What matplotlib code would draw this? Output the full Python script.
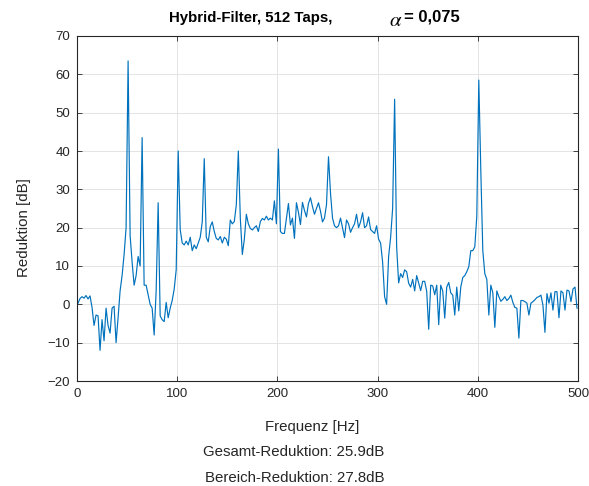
import numpy as np
import matplotlib
matplotlib.use("Agg")
import matplotlib.pyplot as plt

plt.rcParams['font.family'] = ['Liberation Sans', 'DejaVu Sans']

# Frequency grid (Hz) and reduction values (dB)
freq = np.arange(1, 500, 2)
reduction = [
    0.3, 1.5, 2.0, 1.6, 2.3, 1.4, 2.2, -0.8, -5.5, -2.8,
    -3.0, -12.0, -4.0, -9.5, -1.0, -5.5, -7.5, -1.0, -0.5, -10.0,
    -3.5, 3.5, 7.5, 13.0, 20.0, 63.5, 18.0, 11.0, 5.0, 7.5,
    12.5, 10.0, 43.5, 5.0, 5.0, 2.5, 0.0, -1.0, -8.0, 3.5,
    26.5, -3.0, -4.0, -4.5, 0.5, -3.5, -1.0, 1.0, 4.0, 9.0,
    40.0, 19.5, 16.0, 15.5, 16.5, 15.5, 17.5, 14.0, 15.5, 14.5,
    16.0, 17.5, 21.5, 38.0, 17.5, 16.3, 20.3, 21.5, 19.0, 17.2,
    16.8, 17.7, 16.0, 17.5, 17.0, 15.3, 22.0, 21.0, 21.6, 26.0,
    40.0, 22.4, 13.0, 17.0, 23.5, 21.0, 19.8, 19.4, 20.0, 20.5,
    19.0, 21.6, 22.4, 22.0, 23.0, 22.0, 22.5, 22.0, 27.0, 21.0,
    40.5, 19.0, 18.5, 18.5, 22.5, 26.3, 20.7, 22.5, 17.2, 26.5,
    24.0, 20.8, 26.6, 24.5, 22.8, 26.3, 27.8, 25.5, 23.5, 25.0,
    26.5, 24.3, 21.5, 22.5, 26.0, 38.5, 29.0, 22.5, 20.5, 20.0,
    20.5, 22.5, 20.0, 17.4, 22.0, 21.0, 18.8, 20.0, 21.0, 23.5,
    20.0, 21.5, 23.9, 20.0, 20.5, 22.8, 19.5, 19.0, 18.5, 20.5,
    17.0, 16.0, 11.0, 2.0, 0.0, 12.5, 17.5, 25.0, 53.5, 15.0,
    5.6, 8.0, 7.0, 9.0, 8.5, 5.5, 4.5, 6.5, 3.5, 7.5,
    5.5, 3.6, 6.0, 6.0, 3.4, -6.5, 5.0, 4.8, 2.5, 5.0,
    -5.3, 5.0, 3.5, -3.6, 4.5, 5.7, 3.0, 2.4, -2.8, 4.5,
    -1.7, 4.5, 7.0, 7.5, 8.5, 9.8, 14.0, 14.0, 15.0, 23.0,
    58.5, 35.0, 14.0, 8.0, 6.5, -2.8, 5.0, 3.0, -6.0, 3.5,
    2.0, 0.8, 1.3, 2.0, 1.0, 1.5, 2.4, 0.5, -0.8, -1.0,
    -8.8, 1.0, 1.0, 0.7, 0.3, -2.8, 0.3, 0.7, 1.2, 1.8,
    2.0, 2.4, -0.2, -7.3, 2.8, 0.3, 3.0, -1.5, 3.3, 3.3,
    -3.5, 3.5, 3.0, -1.5, 3.7, 3.5, 0.7, 4.0, 4.5, -1.0,
]
xticks = [0, 100, 200, 300, 400, 500]
yticks = [-20, -10, 0, 10, 20, 30, 40, 50, 60, 70]

title_left = "Hybrid-Filter, 512 Taps,"
title_right = "= 0,075"
xlabel = "Frequenz [Hz]"
ylabel = "Reduktion [dB]"
note1 = "Gesamt-Reduktion: 25.9dB"
note2 = "Bereich-Reduktion: 27.8dB"

W, H = 589, 486
fig = plt.figure(figsize=(W / 100, H / 100), dpi=100)
ax = fig.add_axes([77 / W, 1 - 381 / H, (578 - 77) / W, (381 - 36) / H])

ax.plot(freq, reduction, color='#0072BD', lw=0.85)
ax.set_xlim(0, 500)
ax.set_ylim(-20, 70)
ax.set_xticks(xticks)
ax.set_yticks(yticks)

dark = '#262626'
ax.grid(True, color='#dfdfdf', lw=0.6)
ax.set_axisbelow(True)
for s in ax.spines.values():
    s.set_color(dark)
    s.set_linewidth(0.8)
ax.tick_params(direction='in', length=3.5, width=0.6, colors=dark,
               labelsize=9.5, top=True, right=True, pad=5)

ax.set_xlabel(xlabel, fontsize=10.8, color=dark)
ax.xaxis.set_label_coords((312 - 77) / 501, -(425 - 381) / 345 + 0.015)
ax.set_ylabel(ylabel, fontsize=10.8, color=dark)
ax.yaxis.set_label_coords(-(77 - 31) / 501, 1 - (228 - 36) / 345)

fig.text(251 / W, 1 - 18 / H, title_left, ha='center', va='center',
         fontsize=10.8, fontweight='bold', color='black')
fig.text(396 / W, 1 - 21 / H, r'$\alpha$', ha='center', va='center',
         fontsize=15, color='black', math_fontfamily='stix')
fig.text(404 / W, 1 - 17 / H, title_right, ha='left', va='center',
         fontsize=12, fontweight='bold', color='black')

fig.text(294 / W, 1 - 452 / H, note1, ha='center', va='center',
         fontsize=10.8, color=dark)
fig.text(295 / W, 1 - 478 / H, note2, ha='center', va='center',
         fontsize=10.8, color=dark)

fig.savefig('out.png', dpi=100, facecolor='white')
